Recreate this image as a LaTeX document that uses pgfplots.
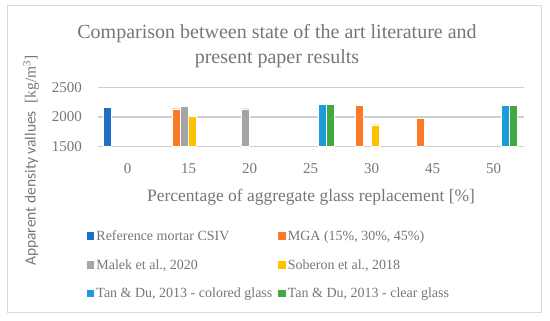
\documentclass[border=0pt]{standalone}
\usepackage{pgfplots}
\pgfplotsset{compat=1.18}
\usepackage{fontspec}
\setmainfont{Liberation Serif}
\newfontfamily\sansf{Carlito}
\definecolor{refblue}{HTML}{1E6FC6}
\definecolor{mgaorange}{HTML}{F97B26}
\definecolor{malekgray}{HTML}{A5A5A5}
\definecolor{sobyellow}{HTML}{FFC000}
\definecolor{tanblue}{HTML}{1E9BDA}
\definecolor{tangreen}{HTML}{43A843}
\definecolor{gridgray}{HTML}{CFCFCF}
\definecolor{txtgray}{HTML}{767676}
\definecolor{framegray}{HTML}{D9D9D9}
\begin{document}
\begin{tikzpicture}[x=1bp,y=1bp]
\useasboundingbox (0,0) rectangle (550,320);
\draw[framegray, line width=1bp] (7,7.5) rectangle (541,314);
% title
\node[txtgray, font=\fontsize{20bp}{22bp}\selectfont, anchor=center] at (277,286) {Comparison between state of the art literature and};
\node[txtgray, font=\fontsize{20bp}{22bp}\selectfont, anchor=center] at (277,261) {present paper results};
% x label
\node[txtgray, font=\fontsize{17.5bp}{20bp}\selectfont, anchor=center] at (311,123) {Percentage of aggregate glass replacement [\%]};
% y label
\node[txtgray, rotate=90, anchor=center] at (31,159.5) {{\sansf\fontsize{15.5bp}{18bp}\selectfont Apparent density vallues}\fontsize{15.5bp}{18bp}\selectfont\ \ [kg/m\textsuperscript{3}]};
% grid lines drawn outside axis, in picture coordinates matching the axis box
\draw[gridgray, line width=1.5bp] (97,203.0) -- (524,203.0);
\draw[gridgray, line width=1.5bp] (97,232.5) -- (524,232.5);
\begin{axis}[
  at={(97bp,173.5bp)}, anchor=south west,
  scale only axis, width=427bp, height=59bp,
  xmin=-0.5, xmax=6.5, ymin=1500, ymax=2500,
  xtick={0,1,2,3,4,5,6},
  xticklabels={0,15,20,25,30,45,50},
  ytick={1500,2000,2500},
  axis x line*=bottom,
  axis y line*=left,
  y axis line style={white, line width=0pt},
  x axis line style={gridgray, line width=1.5bp, -},
  major tick length=0pt,
  tick label style={txtgray, font=\fontsize{15bp}{18bp}\selectfont},
  /pgf/number format/assume math mode=true,
  /pgf/number format/1000 sep={},
  xticklabel style={anchor=base, yshift=-27bp, inner sep=0pt},
  yticklabel style={anchor=east, xshift=-15bp, inner sep=0pt},
  ybar, bar width=8bp,
  every axis plot/.append style={draw=white, line width=0.3bp},
  legend columns=2,
  legend style={at={(-0.024,-1.39)}, anchor=north west, draw=none, fill=none,
    font=\fontsize{14bp}{16bp}\selectfont, text=txtgray,
    /tikz/every even column/.append style={column sep=4bp},
    row sep=13.5bp, inner sep=0pt, cells={anchor=west}},
  legend image code/.code={\fill[#1,draw=none] (0bp,-3.5bp) rectangle (7.5bp,4bp);},
  clip=false,
]
\addplot[fill=refblue, bar shift=-20bp] coordinates {(0,2160)};
\addlegendentry{Reference mortar CSIV}
\addplot[fill=mgaorange, bar shift=-12bp] coordinates {(1,2140) (4,2195) (5,1980)};
\addlegendentry{MGA (15\%, 30\%, 45\%)}
\addplot[fill=malekgray, bar shift=-4bp] coordinates {(1,2180) (2,2140)};
\addlegendentry{Malek et al., 2020}
\addplot[fill=sobyellow, bar shift=4bp] coordinates {(1,2020) (4,1870)};
\addlegendentry{Soberon et al., 2018}
\addplot[fill=tanblue, bar shift=12bp] coordinates {(3,2220) (6,2195)};
\addlegendentry{Tan \& Du, 2013 - colored glass}
\addplot[fill=tangreen, bar shift=20bp] coordinates {(3,2210) (6,2195)};
\addlegendentry{Tan \& Du, 2013 - clear glass}
\end{axis}
\end{tikzpicture}
\end{document}
